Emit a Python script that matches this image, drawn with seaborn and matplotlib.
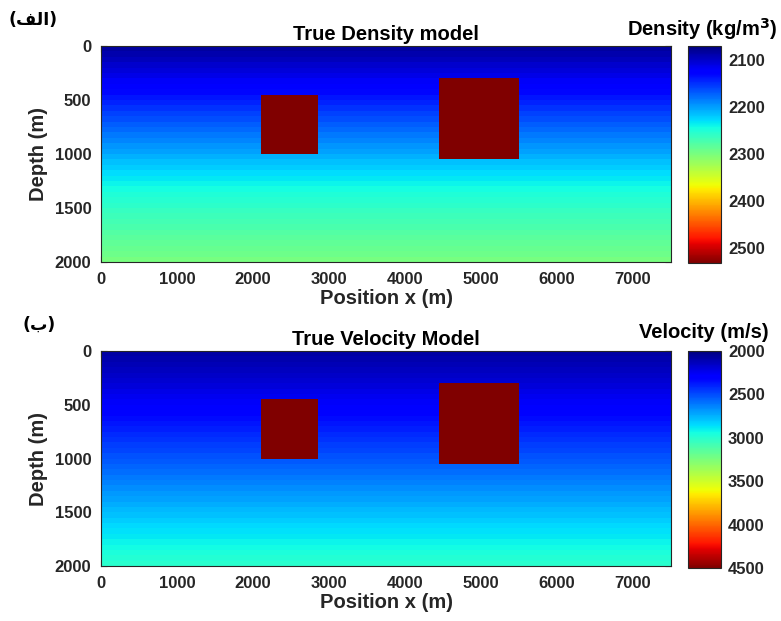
import numpy as np
import matplotlib
matplotlib.use("Agg")
import matplotlib.pyplot as plt
import seaborn as sns

# ---- data ----
cell = 50  # model grid spacing (m)
x_max = 7500
z_max = 2000

# background depth profiles at cell centres (25, 75, ..., 1975 m)
density_profile = [2083, 2089, 2095, 2101, 2107, 2113, 2119, 2125, 2131, 2137,
                   2144, 2150, 2157, 2163, 2170, 2176, 2183, 2189, 2196, 2202,
                   2209, 2215, 2221, 2228, 2234, 2240, 2245, 2250, 2254, 2258,
                   2262, 2266, 2270, 2274, 2278, 2282, 2286, 2290, 2294, 2298]
velocity_profile = [2085, 2105, 2125, 2145, 2165, 2185, 2205, 2228, 2250, 2272,
                    2295, 2318, 2341, 2364, 2388, 2412, 2436, 2460, 2484, 2508,
                    2533, 2558, 2583, 2608, 2634, 2660, 2686, 2712, 2738, 2764,
                    2790, 2815, 2840, 2864, 2888, 2912, 2935, 2958, 2980, 3000]

# anomalous bodies (m)
body_x0 = [2100, 4450]
body_x1 = [2850, 5500]
body_z0 = [450, 300]
body_z1 = [1000, 1050]
body_density = 2533
body_velocity = 4500

density_lim = [2070, 2533]
velocity_lim = [2000, 4500]

x_ticks = [0, 1000, 2000, 3000, 4000, 5000, 6000, 7000]
z_ticks = [0, 500, 1000, 1500, 2000]
density_ticks = [2100, 2200, 2300, 2400, 2500]
velocity_ticks = [2000, 2500, 3000, 3500, 4000, 4500]


def build_model(profile, body_value):
    nz, nx = z_max // cell, x_max // cell
    m = np.tile(np.asarray(profile, float)[:, None], (1, nx))
    for x0, x1, z0, z1 in zip(body_x0, body_x1, body_z0, body_z1):
        m[z0 // cell:z1 // cell, x0 // cell:x1 // cell] = body_value
    return m


density = build_model(density_profile, body_density)
velocity = build_model(velocity_profile, body_velocity)

# ---- style ----
sns.set_style("ticks")
plt.rcParams["font.family"] = ["Liberation Sans", "DejaVu Sans"]
plt.rcParams["font.weight"] = "bold"
txt = "#262626"

W, H = 781, 621
fig = plt.figure(figsize=(W / 100, H / 100), dpi=100)


def fbox(l, t, r, b):
    return [l / W, 1 - b / H, (r - l) / W, (b - t) / H]


panels = [
    (density, density_lim, density_ticks, "True Density model",
     fbox(101, 46, 671, 262), fbox(688, 46, 721, 263)),
    (velocity, velocity_lim, velocity_ticks, "True Velocity Model",
     fbox(101, 351, 671, 566), fbox(688, 351, 721, 568)),
]

for data, lim, cticks, title, abox, cbox in panels:
    ax = fig.add_axes(abox)
    cax = fig.add_axes(cbox)
    sns.heatmap(data, cmap="jet", vmin=lim[0], vmax=lim[1], ax=ax,
                cbar_ax=cax, xticklabels=False, yticklabels=False)
    for s in ax.spines.values():
        s.set_visible(True)
        s.set_linewidth(0.8)
        s.set_color("#262626")
    ax.set_xticks([v / cell for v in x_ticks])
    ax.set_xticklabels([str(v) for v in x_ticks])
    ax.set_yticks([v / cell for v in z_ticks])
    ax.set_yticklabels([str(v) for v in z_ticks], rotation=0)
    ax.tick_params(direction="in", length=4, width=0.8, top=True, right=True,
                   labelsize=12, labelcolor=txt, color="#262626", pad=7)
    for lab in ax.get_xticklabels() + ax.get_yticklabels():
        lab.set_fontweight("bold")
    ax.set_xlabel("Position x (m)", fontsize=14.5, fontweight="bold",
                  color=txt, labelpad=2)
    ax.set_ylabel("Depth (m)", fontsize=14.5, fontweight="bold", color=txt,
                  labelpad=5)
    ax.set_title(title, fontsize=14.5, fontweight="bold", color="black",
                 pad=4)

    cb = ax.collections[0].colorbar
    cb.set_ticks(cticks)
    cb.set_ticklabels([str(v) for v in cticks])
    cb.outline.set_visible(True)
    cb.outline.set_linewidth(0.8)
    cb.outline.set_edgecolor("#262626")
    cax.invert_yaxis()
    cax.tick_params(length=0, labelsize=12, labelcolor=txt, pad=5)
    for lab in cax.get_yticklabels():
        lab.set_fontweight("bold")

fig.text(777 / W, 1 - 29 / H, "Density (kg/m$^{\\mathbf{3}}$)", ha="right",
         va="center", fontsize=14.5, fontweight="bold", color="black")
fig.text(769 / W, 1 - 332 / H, "Velocity (m/s)", ha="right", va="center",
         fontsize=14.5, fontweight="bold", color="black")

fig.text(8 / W, 1 - 20 / H, "(\uFED2\uFEDF\uFE8D)", ha="left", va="center",
         fontsize=12.5, fontweight="bold", color="black",
         family=["DejaVu Sans"])
fig.text(23 / W, 1 - 325 / H, "(\uFE8F)", ha="left", va="center",
         fontsize=12.5, fontweight="bold", color="black",
         family=["DejaVu Sans"])

fig.savefig("out.png", dpi=100)
